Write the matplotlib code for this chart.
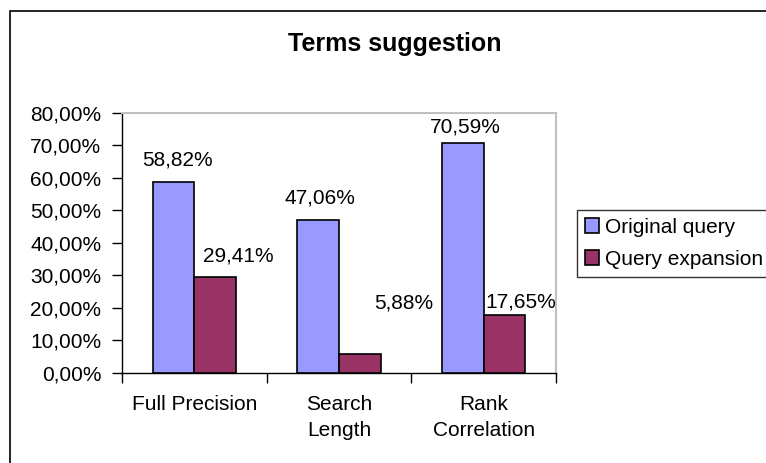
import matplotlib
matplotlib.use("Agg")
import matplotlib.pyplot as plt
from matplotlib.patches import Rectangle, Patch
import numpy as np

categories = ["Full Precision", "Search\nLength", "Rank\nCorrelation"]
series_names = ["Original query", "Query expansion"]
original_query = [58.82, 47.06, 70.59]
query_expansion = [29.41, 5.88, 17.65]
yticks = [0, 10, 20, 30, 40, 50, 60, 70, 80]
title = "Terms suggestion"

colors = ["#9999FF", "#993366"]
# label offsets (pixels): dx, baseline gap above bar top
offs_orig = [(3.5, 16), (2, 16.7), (2.5, 11)]
offs_exp = [(23, 15.6), (43.5, 44.6), (16, 7.7)]

plt.rcParams['font.family'] = ['Liberation Sans', 'DejaVu Sans']
W, H = 766, 463
fig = plt.figure(figsize=(W / 100, H / 100), dpi=100)
ax = fig.add_axes([122 / W, 1 - 372.7 / H, (556 - 122) / W, (372.7 - 112.7) / H])

x = np.arange(len(categories))
bw = 0.2875
b1 = ax.bar(x - bw / 2, original_query, bw, color=colors[0], edgecolor="black", linewidth=1.2, zorder=3)
b2 = ax.bar(x + bw / 2, query_expansion, bw, color=colors[1], edgecolor="black", linewidth=1.2, zorder=3)

px2pt = 72 / 100
fs = 15
for bars, vals, offs in ((b1, original_query, offs_orig), (b2, query_expansion, offs_exp)):
    for rect, v, (dx, dy) in zip(bars, vals, offs):
        cx = rect.get_x() + rect.get_width() / 2
        ax.annotate(f"{v:.2f}%".replace(".", ","), xy=(cx, v), xytext=(dx * px2pt, dy * px2pt),
                    textcoords="offset points", ha="center", va="baseline", fontsize=fs,
                    annotation_clip=False)

ax.set_xlim(-0.5, len(categories) - 0.5)
ax.set_ylim(0, 80)
ax.set_yticks(yticks)
ax.set_yticklabels([f"{t:.2f}%".replace(".", ",") for t in yticks], fontsize=fs)
ax.set_xticks(np.arange(len(categories) + 1) - 0.5)
ax.set_xticklabels([])
ax.set_xticks(x, minor=True)
ax.set_xticklabels(categories, minor=True, fontsize=fs, linespacing=1.45)
ax.tick_params(axis="x", which="minor", length=0, pad=16)
ax.tick_params(axis="x", which="major", length=7, width=1, direction="out", color="black")
ax.tick_params(axis="y", length=7, width=1, direction="out", pad=8.0, color="black")

for s in ("left", "bottom"):
    ax.spines[s].set_color("black")
    ax.spines[s].set_linewidth(1.0)
for s in ("top", "right"):
    ax.spines[s].set_color("#C0C0C0")
    ax.spines[s].set_linewidth(1.5)

fig.text(395 / W, 1 - 51 / H, title, ha="center", va="baseline", fontsize=18, fontweight="bold")

handles = [Patch(facecolor=c, edgecolor="black", linewidth=1.2) for c in colors]
leg = fig.legend(handles, series_names, loc="upper left", bbox_to_anchor=(576.7 / W, 1 - 210 / H),
                 borderaxespad=0, fontsize=fs, handlelength=0.68, handleheight=0.68,
                 handletextpad=0.29, labelspacing=0.62, borderpad=0.38, fancybox=False,
                 frameon=True, edgecolor="black")
leg.get_frame().set_linewidth(1.0)

fig.patches.append(Rectangle((9.5 / W, -0.5), 2.0, (1 - 11.5 / H) + 0.5, transform=fig.transFigure,
                             fill=False, edgecolor="black", linewidth=1.2, clip_on=False))

fig.savefig("out.png", dpi=100)
